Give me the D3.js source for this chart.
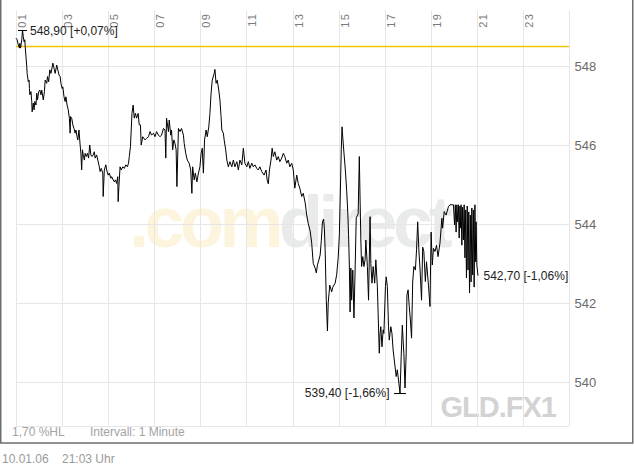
<!DOCTYPE html>
<html><head><meta charset="utf-8">
<script src="https://cdn.jsdelivr.net/npm/d3@7"></script>
<style>
html,body{margin:0;padding:0;background:#fff;}
svg{display:block;font-family:"Liberation Sans",Arial,Helvetica,sans-serif;}
</style></head><body>
<svg id="c" width="634" height="466"></svg>
<script>
// minutes after 01:00
const timeMinutes = [0,3,6,9,10,12,15,17,19,21,23,24,26,28,29,32,34,35,36,39,41,42,45,47,49,52,54,56,59,62,65,67,71,74,76,80,82,85,88,91,96,99,102,106,109,112,115,117,120,122,125,128,130,133,136,139,141,142,145,148,151,154,156,159,161,164,167,169,171,173,175,178,180,183,186,189,192,195,198,201,204,206,210,213,217,219,222,226,227,230,234,236,240,243,247,249,253,256,259,262,265,266,268,271,274,278,282,286,290,293,295,298,300,302,305,308,311,314,318,321,324,326,330,336,340,345,349,353,358,362,366,371,375,379,384,388,390,392,397,399,403,405,408,411,414,417,419,423,427,431,436,438,442,446,451,455,458,460,464,467,471,475,479,482,485,488,491,495,498,502,505,508,511,516,518,521,524,528,531,534,536,540,542,546,549,553,557,562,566,570,575,579,583,588,592,596,601,605,609,614,618,622,627,631,635,640,646,651,654,657,660,664,667,670,674,679,683,687,692,696,700,705,709,713,718,722,726,731,735,739,744,748,753,757,761,766,770,774,779,782,785,788,792,795,798,801,803,805,808,811,813,817,822,825,831,835,839,842,845,847,849,851,854,858,861,864,866,868,870,872,874,877,880,883,886,891,894,896,898,900,903,906,909,911,915,918,922,924,927,930,934,937,941,943,946,948,950,953,956,958,962,964,967,970,972,976,979,982,986,990,993,997,1000,1003,1006,1008,1010,1013,1016,1018,1021,1024,1027,1030,1033,1036,1040,1043,1046,1049,1052,1056,1059,1062,1066,1069,1074,1078,1081,1084,1087,1091,1095,1099,1104,1109,1111,1115,1120,1126,1130,1135,1139,1142,1144,1146,1148,1150,1152,1154,1156,1158,1159,1161,1163,1165,1167,1169,1171,1173,1175,1177,1179,1181,1183,1185,1187,1189,1191,1193,1195,1197,1198,1200,1203];
const prices = [548.70,548.66,548.53,548.45,548.57,548.45,548.66,548.90,548.74,548.61,
548.66,548.49,548.23,547.98,547.81,547.60,547.64,547.43,547.27,547.35,
547.10,546.84,547.06,546.89,547.10,547.01,547.31,547.14,547.35,547.39,
547.27,547.39,547.14,547.35,547.64,547.56,547.73,547.60,547.90,547.81,
548.07,547.94,547.81,548.02,547.90,547.77,547.73,547.56,547.43,547.47,
547.22,547.10,547.22,547.01,546.89,546.68,546.30,546.72,546.68,546.51,
546.42,546.30,546.38,546.21,546.13,546.38,546.00,545.79,545.37,545.88,
545.75,545.62,545.79,545.71,545.79,545.67,546.00,545.75,545.71,545.75,
545.83,545.67,545.75,545.62,545.45,545.33,545.41,545.29,544.70,545.37,
545.50,545.37,545.24,545.29,545.16,545.20,545.12,545.07,545.12,545.03,
545.20,544.57,544.95,545.45,545.37,545.45,545.41,545.50,545.45,545.54,
545.71,545.96,546.38,546.80,547.01,546.68,546.80,546.68,546.80,546.51,
546.51,546.00,546.21,546.13,546.17,546.21,546.34,546.25,546.30,546.21,
546.34,546.25,546.21,546.25,546.42,546.38,545.67,546.68,546.34,546.63,
546.25,546.38,545.88,546.13,546.04,545.88,544.95,546.42,546.34,546.42,
546.25,546.04,545.79,545.62,545.54,545.37,544.78,545.45,545.12,545.29,
545.07,545.29,545.45,545.79,545.92,545.29,546.13,546.38,546.21,546.46,
546.80,547.31,547.64,547.81,547.91,547.56,547.64,547.39,547.14,546.72,
546.38,546.30,546.13,545.88,545.62,545.45,545.58,545.45,545.62,545.45,
545.58,545.37,545.62,545.50,545.92,545.54,545.45,545.58,545.41,545.54,
545.45,545.50,545.41,545.37,545.45,545.33,545.24,545.37,545.12,545.02,
545.37,545.62,545.92,545.71,545.83,545.62,545.71,545.58,545.67,545.79,
545.71,545.54,545.62,545.45,545.54,545.37,544.91,545.24,545.03,544.91,
544.70,544.78,544.54,544.23,544.02,543.83,543.52,543.01,542.89,542.77,
542.97,543.07,543.22,543.58,544.06,544.13,543.90,543.35,542.08,541.30,
542.01,542.46,542.29,542.41,542.51,542.72,543.15,543.73,544.99,545.88,
546.46,546.18,545.80,545.32,544.86,544.28,543.73,542.97,541.78,542.89,
542.08,542.84,541.63,542.84,544.16,544.26,545.71,544.61,543.60,542.93,
543.18,542.93,543.10,543.60,542.93,542.08,544.19,543.01,542.51,542.93,
542.51,543.10,542.42,541.75,540.74,541.24,541.41,540.90,541.33,541.24,
542.42,542.67,542.42,541.41,541.07,541.41,541.24,540.82,540.49,540.15,
540.32,539.98,539.73,540.65,541.45,541.07,540.74,539.86,540.74,542.21,
542.34,541.92,541.58,541.12,542.54,542.93,542.84,543.35,544.06,543.35,
542.89,542.08,543.42,543.31,542.55,543.05,542.46,541.92,543.80,542.97,
543.39,543.31,543.47,543.18,543.52,544.15,543.90,544.32,544.23,544.44,
544.49,544.49,544.49,543.98,544.49,543.80,544.49,544.06,544.49,543.65,
544.46,543.90,544.49,543.47,544.43,543.60,544.49,543.15,544.36,542.64,
544.46,542.84,544.31,542.26,544.23,542.54,544.41,542.72,544.36,542.41,
544.49,543.05,544.06,542.97,542.70];

const hourTickLabels = ["01","03","05","07","09","11","13","15","17","19","21","23"];
const priceTicks = [540,542,544,546,548];
const prevClose = 548.50;
const highValue = 548.90, lowValue = 539.40, lastValue = 542.70;
const spanText = "1,70 %HL";
const intervalText = "Intervall: 1 Minute";
const dateText = "10.01.06";
const timeText = "21:03 Uhr";
const symbolText = "GLD.FX1";
const watermarkParts = [".com", "direct"];

const svg = d3.select("#c");
const plot = {left:16, right:569, top:10.5, bottom:426};
const x = d3.scaleLinear().domain([0, 1440]).range([plot.left, plot.right]);
const y = d3.scaleLinear().domain([538.9, 549.4]).range([plot.bottom, plot.top]);
const data = d3.zip(timeMinutes, prices).map(([t,p]) => ({t, p}));
const fmt = v => d3.format(".2f")(v).replace(".", ",");
const pct = v => { const s = d3.format("+.2f")((v/prevClose - 1)*100).replace(".", ","); return s.replace("−","-"); };

// watermark
const wm = svg.append("text").attr("x", 129).attr("y", 247)
  .attr("font-size", 72).attr("font-weight", "bold").attr("letter-spacing", -4.5);
wm.append("tspan").attr("fill", "#fdf4dd").text(watermarkParts[0]);
wm.append("tspan").attr("fill", "#e9eaea").text(watermarkParts[1]);

svg.append("text").attr("x", 556).attr("y", 416.5).attr("text-anchor", "end")
  .attr("font-size", 29).attr("font-weight", "bold").attr("letter-spacing", -1)
  .attr("fill", "#d3d3d3").text(symbolText);

// grid
const grid = svg.append("g").attr("stroke", "#e6e6e6").attr("stroke-width", 1);
d3.range(0, 1441, 120).forEach(m => {
  const gx = Math.round(x(m)) + 0.5;
  grid.append("line").attr("x1", gx).attr("x2", gx).attr("y1", plot.top).attr("y2", plot.bottom);
});
priceTicks.forEach(v => {
  const gy = Math.round(y(v)) + 0.5;
  grid.append("line").attr("x1", plot.left).attr("x2", plot.right).attr("y1", gy).attr("y2", gy);
});
grid.append("line").attr("x1", plot.left).attr("x2", plot.right).attr("y1", plot.bottom + 0.5).attr("y2", plot.bottom + 0.5);

// x labels (rotated)
hourTickLabels.forEach((lab, i) => {
  const gx = Math.round(x(i*120));
  svg.append("text")
    .attr("transform", `translate(${gx + 10},13) rotate(-90)`)
    .attr("text-anchor", "end").attr("font-size", 11).attr("letter-spacing", 1.2)
    .attr("fill", "#7a7a7a").text(lab);
});

// y labels
priceTicks.forEach(v => {
  svg.append("text").attr("x", 574.5).attr("y", y(v)).attr("dy", "0.36em")
    .attr("font-size", 13).attr("fill", "#6a6a6a").text(d3.format("d")(v));
});

// previous close
const pcY = Math.round(y(prevClose)) + 0.5;
svg.append("line").attr("x1", plot.left).attr("x2", plot.right).attr("y1", pcY).attr("y2", pcY)
  .attr("stroke", "#f5c400").attr("stroke-width", 1.3);

// price line
svg.append("path").datum(data)
  .attr("d", d3.line().x(d => x(d.t)).y(d => y(d.p)))
  .attr("fill", "none").attr("stroke", "#000").attr("stroke-width", 1);

// markers
const hi = data[d3.maxIndex(data, d => d.p)];
const lo = data[d3.minIndex(data, d => d.p)];
const last = data[data.length - 1];
const mk = svg.append("g").attr("stroke", "#000").attr("stroke-width", 1);
mk.append("line").attr("x1", x(hi.t) - 4.5).attr("x2", x(hi.t) + 4.5).attr("y1", Math.round(y(hi.p)) + 0.5).attr("y2", Math.round(y(hi.p)) + 0.5);
mk.append("line").attr("x1", x(lo.t) - 6).attr("x2", x(lo.t) + 6).attr("y1", Math.round(y(lo.p)) + 0.5).attr("y2", Math.round(y(lo.p)) + 0.5);
const lbl = svg.append("g").attr("font-size", 12).attr("fill", "#222");
lbl.append("text").attr("x", x(hi.t) + 7.5).attr("y", y(hi.p)).attr("dy", "0.36em")
  .text(`${fmt(highValue)} [${pct(highValue)}%]`);
lbl.append("text").attr("x", x(lo.t) - 10.5).attr("y", y(lo.p)).attr("dy", "0.36em").attr("text-anchor", "end")
  .text(`${fmt(lowValue)} [${pct(lowValue)}%]`);
lbl.append("text").attr("x", x(last.t) + 5.5).attr("y", y(last.p)).attr("dy", "0.36em")
  .text(`${fmt(lastValue)} [${pct(lastValue)}%]`);

// footer inside frame
svg.append("text").attr("x", 12).attr("y", 436).attr("font-size", 12).attr("fill", "#a3a3a3").text(spanText);
svg.append("text").attr("x", 90).attr("y", 436).attr("font-size", 12).attr("fill", "#a3a3a3").text(intervalText);

// frame
svg.append("rect").attr("x", 0.75).attr("y", -2).attr("width", 632).attr("height", 445)
  .attr("fill", "none").attr("stroke", "#6e6e6e").attr("stroke-width", 1.5);

// date below
svg.append("text").attr("x", 2).attr("y", 463).attr("font-size", 12).attr("fill", "#9a9a9a").text(dateText);
svg.append("text").attr("x", 62).attr("y", 463).attr("font-size", 12).attr("fill", "#9a9a9a").text(timeText);
</script>
</body></html>
